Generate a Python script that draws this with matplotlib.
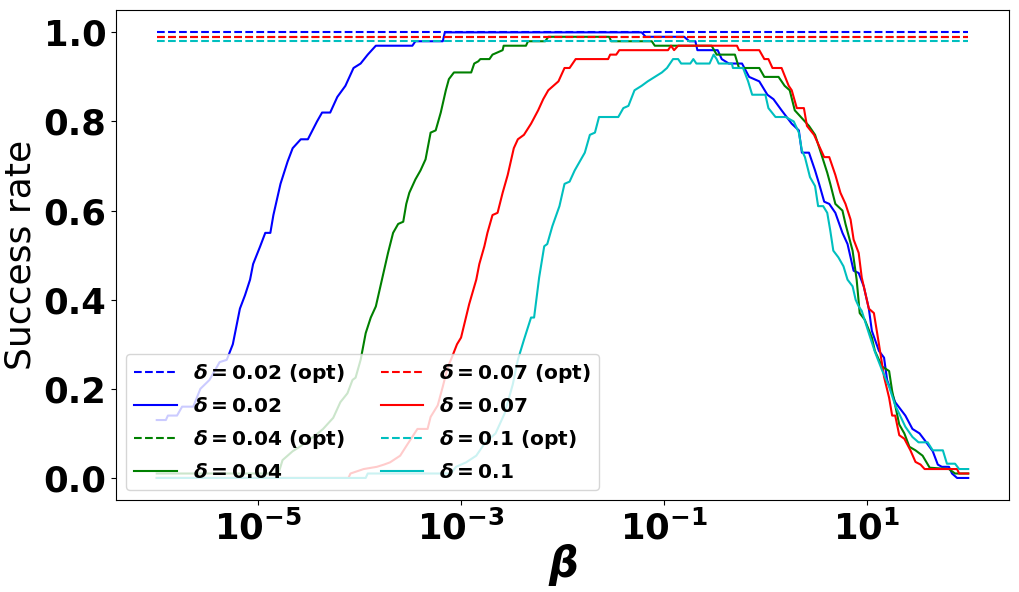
import numpy as np
import matplotlib
matplotlib.use('Agg')
import matplotlib.pyplot as plt
from matplotlib.ticker import FuncFormatter, FixedLocator, NullLocator

# noise levels and the success rate of the optimal beta (dashed lines)
deltas = ['0.02', '0.04', '0.07', '0.1']
colors = ['b', 'g', 'r', 'c']
opt_rate = [1.0, 0.99, 0.99, 0.98]
beta_range = [1e-6, 1e2]

# (log10 beta, success rate)
blue = [(-6.00, 0.13), (-5.91, 0.13), (-5.89, 0.14), (-5.80, 0.14), (-5.75, 0.16), (-5.64, 0.16),
        (-5.57, 0.20), (-5.48, 0.22), (-5.38, 0.26), (-5.31, 0.265), (-5.25, 0.30), (-5.18, 0.38),
        (-5.13, 0.41), (-5.08, 0.445), (-5.05, 0.48), (-4.98, 0.52), (-4.93, 0.55), (-4.88, 0.55),
        (-4.85, 0.59), (-4.78, 0.66), (-4.71, 0.71), (-4.66, 0.74), (-4.58, 0.76), (-4.51, 0.76),
        (-4.42, 0.80), (-4.37, 0.82), (-4.29, 0.82), (-4.22, 0.855), (-4.14, 0.88), (-4.06, 0.92),
        (-3.99, 0.93), (-3.92, 0.95), (-3.84, 0.97), (-3.48, 0.97), (-3.45, 0.98), (-3.18, 0.98),
        (-3.16, 1.0), (-1.22, 1.0), (-1.18, 0.99), (-0.80, 0.99), (-0.75, 0.98), (-0.69, 0.98),
        (-0.67, 0.96), (-0.47, 0.96), (-0.43, 0.94), (-0.36, 0.93), (-0.23, 0.93), (-0.16, 0.90),
        (-0.06, 0.89), (0.02, 0.86), (0.08, 0.85), (0.16, 0.825), (0.26, 0.795), (0.33, 0.78),
        (0.36, 0.73), (0.43, 0.73), (0.49, 0.69), (0.53, 0.66), (0.58, 0.62), (0.63, 0.615),
        (0.69, 0.595), (0.76, 0.55), (0.81, 0.525), (0.87, 0.465), (0.92, 0.46), (0.97, 0.43),
        (1.02, 0.38), (1.05, 0.33), (1.12, 0.285), (1.17, 0.27), (1.20, 0.22), (1.28, 0.17),
        (1.38, 0.14), (1.45, 0.11), (1.52, 0.10), (1.57, 0.085), (1.65, 0.06), (1.70, 0.03),
        (1.74, 0.025), (1.81, 0.025), (1.84, 0.01), (1.89, 0.0), (2.0, 0.0)]

green = [(-6.00, 0.01), (-4.80, 0.01), (-4.76, 0.04), (-4.66, 0.06), (-4.59, 0.07), (-4.44, 0.095),
         (-4.36, 0.11), (-4.26, 0.135), (-4.19, 0.17), (-4.12, 0.19), (-4.07, 0.22), (-4.04, 0.225),
         (-3.99, 0.265), (-3.94, 0.325), (-3.89, 0.36), (-3.84, 0.385), (-3.79, 0.435), (-3.72, 0.505),
         (-3.67, 0.55), (-3.62, 0.57), (-3.57, 0.575), (-3.54, 0.615), (-3.51, 0.64), (-3.45, 0.67),
         (-3.40, 0.69), (-3.35, 0.715), (-3.30, 0.775), (-3.25, 0.78), (-3.20, 0.82), (-3.15, 0.87),
         (-3.12, 0.895), (-3.07, 0.91), (-2.90, 0.91), (-2.87, 0.93), (-2.83, 0.935), (-2.81, 0.94),
         (-2.72, 0.94), (-2.69, 0.95), (-2.64, 0.955), (-2.59, 0.96), (-2.58, 0.97), (-2.36, 0.97),
         (-2.34, 0.98), (-2.17, 0.98), (-2.14, 0.99), (-1.54, 0.99), (-1.52, 0.98), (-1.12, 0.98),
         (-1.09, 0.97), (-0.53, 0.97), (-0.48, 0.95), (-0.30, 0.95), (-0.26, 0.92), (-0.06, 0.92),
         (-0.01, 0.90), (0.13, 0.90), (0.19, 0.88), (0.24, 0.87), (0.29, 0.825), (0.43, 0.79),
         (0.49, 0.77), (0.54, 0.735), (0.61, 0.685), (0.64, 0.66), (0.69, 0.615), (0.76, 0.60),
         (0.79, 0.57), (0.86, 0.51), (0.90, 0.445), (0.93, 0.37), (0.98, 0.355), (1.05, 0.315),
         (1.08, 0.285), (1.15, 0.25), (1.22, 0.24), (1.25, 0.195), (1.32, 0.12), (1.37, 0.10),
         (1.42, 0.07), (1.48, 0.062), (1.55, 0.05), (1.62, 0.023), (1.81, 0.02), (1.87, 0.01),
         (2.0, 0.01)]

red = [(-6.00, 0.0), (-4.11, 0.0), (-4.09, 0.01), (-3.96, 0.02), (-3.83, 0.025), (-3.76, 0.03),
       (-3.70, 0.035), (-3.60, 0.05), (-3.53, 0.075), (-3.43, 0.11), (-3.33, 0.11), (-3.30, 0.137),
       (-3.23, 0.163), (-3.18, 0.205), (-3.13, 0.25), (-3.10, 0.265), (-3.04, 0.30), (-3.00, 0.315),
       (-2.92, 0.39), (-2.85, 0.445), (-2.82, 0.48), (-2.77, 0.52), (-2.74, 0.55), (-2.69, 0.59),
       (-2.64, 0.595), (-2.59, 0.64), (-2.54, 0.68), (-2.48, 0.74), (-2.44, 0.76), (-2.38, 0.77),
       (-2.31, 0.795), (-2.24, 0.825), (-2.19, 0.85), (-2.14, 0.87), (-2.09, 0.88), (-2.04, 0.89),
       (-1.98, 0.92), (-1.93, 0.92), (-1.87, 0.94), (-1.55, 0.94), (-1.53, 0.95), (-1.47, 0.95),
       (-1.44, 0.96), (-0.96, 0.96), (-0.93, 0.97), (-0.90, 0.96), (-0.86, 0.97), (-0.28, 0.97),
       (-0.26, 0.96), (-0.06, 0.96), (-0.01, 0.94), (0.03, 0.94), (0.07, 0.92), (0.16, 0.92),
       (0.23, 0.88), (0.26, 0.87), (0.31, 0.83), (0.38, 0.83), (0.41, 0.79), (0.48, 0.77),
       (0.53, 0.745), (0.58, 0.72), (0.63, 0.72), (0.69, 0.68), (0.74, 0.64), (0.79, 0.615),
       (0.84, 0.58), (0.87, 0.535), (0.92, 0.505), (0.95, 0.45), (1.02, 0.38), (1.07, 0.37),
       (1.12, 0.30), (1.17, 0.227), (1.22, 0.18), (1.25, 0.14), (1.28, 0.14), (1.32, 0.096),
       (1.37, 0.088), (1.43, 0.062), (1.48, 0.036), (1.53, 0.03), (1.57, 0.02), (1.89, 0.02),
       (1.91, 0.01), (2.0, 0.01)]

cyan = [(-6.00, 0.0), (-3.94, 0.0), (-3.92, 0.01), (-3.10, 0.01), (-3.05, 0.025), (-2.95, 0.035),
        (-2.85, 0.05), (-2.76, 0.08), (-2.66, 0.10), (-2.57, 0.145), (-2.49, 0.21), (-2.44, 0.265),
        (-2.38, 0.31), (-2.31, 0.36), (-2.28, 0.36), (-2.23, 0.45), (-2.18, 0.52), (-2.15, 0.525),
        (-2.10, 0.565), (-2.03, 0.61), (-1.98, 0.66), (-1.93, 0.665), (-1.88, 0.69), (-1.78, 0.73),
        (-1.73, 0.77), (-1.68, 0.775), (-1.64, 0.81), (-1.45, 0.81), (-1.40, 0.83), (-1.35, 0.835),
        (-1.29, 0.87), (-1.22, 0.88), (-1.16, 0.89), (-1.09, 0.90), (-1.02, 0.91), (-0.97, 0.92),
        (-0.91, 0.94), (-0.86, 0.94), (-0.83, 0.93), (-0.74, 0.93), (-0.71, 0.94), (-0.68, 0.93),
        (-0.55, 0.93), (-0.51, 0.95), (-0.48, 0.94), (-0.46, 0.93), (-0.33, 0.93), (-0.32, 0.92),
        (-0.22, 0.92), (-0.17, 0.89), (-0.13, 0.86), (0.00, 0.86), (0.03, 0.83), (0.10, 0.81),
        (0.20, 0.81), (0.28, 0.80), (0.33, 0.775), (0.36, 0.735), (0.39, 0.72), (0.44, 0.675),
        (0.49, 0.655), (0.52, 0.61), (0.57, 0.61), (0.61, 0.595), (0.64, 0.555), (0.67, 0.51),
        (0.72, 0.495), (0.77, 0.475), (0.81, 0.445), (0.86, 0.43), (0.89, 0.40), (0.92, 0.385),
        (0.95, 0.375), (1.02, 0.325), (1.08, 0.283), (1.15, 0.242), (1.22, 0.205), (1.28, 0.163),
        (1.38, 0.115), (1.45, 0.092), (1.51, 0.08), (1.60, 0.08), (1.65, 0.062), (1.75, 0.062),
        (1.79, 0.032), (1.87, 0.032), (1.91, 0.02), (2.0, 0.02)]

curves = [blue, green, red, cyan]

fig = plt.figure(figsize=(10.19, 5.92), dpi=100)
ax = fig.add_axes([0.114, 0.155, 0.876, 0.828])

for d, c, opt, pts in zip(deltas, colors, opt_rate, curves):
    logb, rate = zip(*pts)
    ax.plot(beta_range, [opt, opt], '--', color=c, lw=1.5,
            label=r'$\boldsymbol{\delta = %s}$ (opt)' % d)
    ax.plot(10 ** np.array(logb), rate, '-', color=c, lw=1.5,
            label=r'$\boldsymbol{\delta = %s}$' % d)

ax.set_xscale('log')
ax.xaxis.set_major_locator(FixedLocator([1e-5, 1e-3, 1e-1, 1e1]))
ax.xaxis.set_minor_locator(NullLocator())
ax.xaxis.set_major_formatter(FuncFormatter(lambda v, p: r'$\mathbf{10^{%d}}$' % round(np.log10(v))))
ax.set_yticks([0.0, 0.2, 0.4, 0.6, 0.8, 1.0])
ax.set_yticklabels(['0.0', '0.2', '0.4', '0.6', '0.8', '1.0'], fontweight='bold')
ax.tick_params(labelsize=25.5)

ax.set_xlabel(r'$\boldsymbol{\beta}$', fontsize=30, labelpad=-3)
ax.set_ylabel('Success rate', fontsize=26)

ax.legend(loc='lower left', ncol=2, prop={'weight': 'bold', 'size': 14.5},
          labelspacing=0.6, handlelength=2.1, columnspacing=1.8)

fig.savefig('out.png', dpi=100)
